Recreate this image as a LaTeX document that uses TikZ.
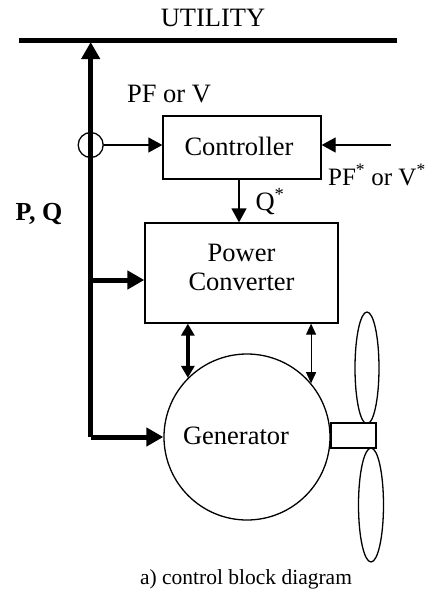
\documentclass[tikz,border=0pt]{standalone}
\usepackage{fontspec}
\setmainfont{Liberation Serif}
\usetikzlibrary{arrows.meta}
\begin{document}
\begin{tikzpicture}[x=1pt,y=-1pt,
  lbl/.style={font=\fontsize{26.5}{30}\selectfont, inner sep=0pt},
  blk/.style={draw, line width=1.3pt, inner sep=0pt, font=\fontsize{26.5}{30}\selectfont},
  thinarrow/.style={line width=1.3pt, -{Triangle[length=14pt,width=15pt]}},
  thickarrow/.style={line width=5pt, -{Triangle[length=17pt,width=18pt]}},
  outline/.style={draw, line width=1.3pt}]
\useasboundingbox (0,0) rectangle (428,590);
% labels
\node[lbl] (util) at (213,18) {UTILITY};
\node[lbl, anchor=base] (pfv) at (169,102) {PF or V};
\node[lbl, anchor=base east, font=\fontsize{25}{30}\selectfont] (pfref) at (426,185) {PF\textsuperscript{*} or V\textsuperscript{*}};
\node[lbl, anchor=base] (qs) at (270,210) {Q\textsuperscript{*}};
\node[lbl, anchor=base, font=\fontsize{26}{30}\selectfont\bfseries] (pq) at (39,220) {P, Q};
\node[font=\fontsize{21.5}{24}\selectfont, inner sep=0pt, anchor=base] (cap) at (246,584) {a) control block diagram};
% bus
\coordinate (busl) at (19,40);
\coordinate (busr) at (397,40);
\draw[line width=5pt] (busl) -- (busr);
% blocks
\node[blk, minimum width=158pt, minimum height=63pt] (ctrl) at (242,147.5) {};
\node[lbl] (ctrltext) at (239,146) {Controller};
\node[blk, minimum width=193pt, minimum height=100pt] (conv) at (241.5,273) {};
\node[lbl, align=center] (convtext) at (241.5,267) {Power\\[-1pt]Converter};
\node[outline, circle, minimum size=166pt, inner sep=0pt] (gen) at (247,437) {};
\node[lbl] (gentext) at (236,436) {Generator};
% main vertical line
\coordinate (vbot) at (90.7,437);
\coordinate (vtop) at (90.7,42);
\coordinate (jc) at (90.7,280);
\draw[thickarrow] (vbot) -- (vtop);
\node[outline, circle, minimum size=25pt, inner sep=0pt] (ct) at (90.7,145) {};
% signals
\coordinate (pfin) at (391,145);
\coordinate (qx) at (239,0);
\draw[thinarrow] (ct.east) -- (ctrl.west |- ct.east);
\draw[thinarrow] (pfin) -- (ctrl.east |- pfin);
\draw[thinarrow] (ctrl.south -| qx) -- (conv.north -| qx);
% power flow
\draw[thickarrow] (jc) -- (conv.west |- jc);
\draw[thickarrow] (vbot) -- (gen.west);
\draw[line width=4pt, {Triangle[length=12pt,width=13pt]}-{Triangle[length=12pt,width=13pt]}] (conv.south -| gen.135) -- (gen.135);
\draw[line width=1pt, {Triangle[length=11pt,width=10pt]}-{Triangle[length=11pt,width=10pt]}] (conv.south -| gen.40.6) -- (gen.40.6);
% turbine
\draw[line width=1.3pt] (367,368) ellipse [x radius=12, y radius=56];
\draw[line width=1.3pt] (371,505) ellipse [x radius=12.5, y radius=57];
\draw[line width=1.3pt, fill=white] (331,423) rectangle (376,448);
\end{tikzpicture}
\end{document}
